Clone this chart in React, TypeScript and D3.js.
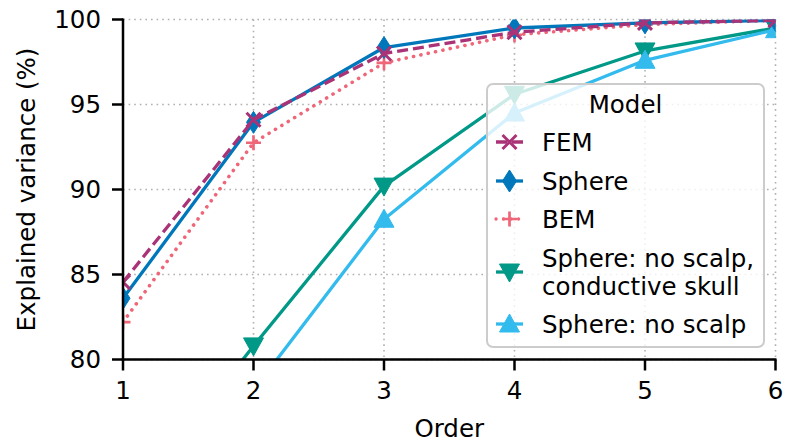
import React from "react";
import * as d3 from "d3";

const orders = [1, 2, 3, 4, 5, 6];
const femValues = [84.55, 94.1, 98.0, 99.25, 99.8, 99.95];
const sphereValues = [83.6, 93.95, 98.35, 99.5, 99.8, 99.95];
const bemValues = [82.2, 92.75, 97.45, 99.1, 99.7, 99.95];
const noScalpSkullValues = [71.0, 80.8, 90.2, 95.6, 98.15, 99.5];
const noScalpValues = [68.5, 78.2, 88.25, 94.5, 97.6, 99.4];
const xTicks = [1, 2, 3, 4, 5, 6];
const yTicks = [80, 85, 90, 95, 100];

type Series = {
  name: string[];
  values: number[];
  color: string;
  dash: string | null;
  cap: string;
  marker: string;
};

const series: Series[] = [
  { name: ["Sphere: no scalp,", "conductive skull"], values: noScalpSkullValues, color: "#009988", dash: null, cap: "butt", marker: "tridown" },
  { name: ["Sphere: no scalp"], values: noScalpValues, color: "#33BBEE", dash: null, cap: "butt", marker: "triup" },
  { name: ["BEM"], values: bemValues, color: "#EE6677", dash: "0.1 7.4", cap: "round", marker: "plus" },
  { name: ["Sphere"], values: sphereValues, color: "#0077BB", dash: null, cap: "butt", marker: "diamond" },
  { name: ["FEM"], values: femValues, color: "#AA3377", dash: "11 5", cap: "butt", marker: "x" },
];

const legendOrder = ["FEM", "Sphere", "BEM", "Sphere: no scalp,", "Sphere: no scalp"];

const W = 786;
const H = 443;
const left = 123;
const right = 775.5;
const top = 19.5;
const bottom = 359.5;
const FONT = "DejaVu Sans, sans-serif";

function Marker({ kind, x, y, color }: { kind: string; x: number; y: number; color: string }) {
  if (kind === "x") {
    const s = 7;
    return (
      <path d={`M${x - s},${y - s}L${x + s},${y + s}M${x - s},${y + s}L${x + s},${y - s}`} stroke={color} strokeWidth={3} fill="none" />
    );
  }
  if (kind === "plus") {
    const s = 7.5;
    return (
      <path d={`M${x - s},${y}L${x + s},${y}M${x},${y - s}L${x},${y + s}`} stroke={color} strokeWidth={2.7} fill="none" />
    );
  }
  if (kind === "diamond") {
    const h = 11, w = 7;
    return <path d={`M${x},${y - h}L${x + w},${y}L${x},${y + h}L${x - w},${y}Z`} fill={color} stroke={color} strokeWidth={1} />;
  }
  if (kind === "tridown") {
    const w = 10, h = 8;
    return <path d={`M${x - w},${y - h}L${x + w},${y - h}L${x},${y + h + 2}Z`} fill={color} stroke={color} strokeWidth={1} />;
  }
  const w = 10, h = 8;
  return <path d={`M${x - w},${y + h}L${x + w},${y + h}L${x},${y - h - 2}Z`} fill={color} stroke={color} strokeWidth={1} />;
}

export default function App() {
  const x = d3.scaleLinear().domain([1, 6]).range([left, right]);
  const y = d3.scaleLinear().domain([80, 100]).range([bottom, top]);
  const line = d3
    .line<number>()
    .x((_, i) => x(orders[i]))
    .y((d) => y(d));

  const legendX = 487;
  const legendY = 84;
  const legendW = 277;
  const legendH = 263;
  const rowYs: Record<string, number[]> = {
    FEM: [142],
    Sphere: [181],
    BEM: [219],
    "Sphere: no scalp,": [258, 286],
    "Sphere: no scalp": [324],
  };

  return (
    <svg width={W} height={H} style={{ position: "absolute", left: 0, top: 0, background: "#fff" }} fontFamily={FONT}>
      <defs>
        <clipPath id="plotclip">
          <rect x={left} y={top} width={right - left} height={bottom - top} />
        </clipPath>
      </defs>
      {/* grid */}
      {xTicks.map((t) => (
        <line key={"gx" + t} x1={x(t)} x2={x(t)} y1={top} y2={bottom} stroke="#b0b0b0" strokeWidth={1.6} strokeDasharray="1.6 4" />
      ))}
      {yTicks.map((t) => (
        <line key={"gy" + t} x1={left} x2={right} y1={y(t)} y2={y(t)} stroke="#b0b0b0" strokeWidth={1.6} strokeDasharray="1.6 4" />
      ))}
      {/* series */}
      <g clipPath="url(#plotclip)">
        {series.map((s) => (
          <g key={s.name[0]}>
            <path
              d={line(s.values) || ""}
              fill="none"
              stroke={s.color}
              strokeWidth={s.dash && s.cap === "round" ? 3.6 : 3.3}
              strokeDasharray={s.dash || undefined}
              strokeLinecap={s.cap as any}
              strokeLinejoin="round"
            />
            {s.values.map((v, i) => (
              <Marker key={i} kind={s.marker} x={x(orders[i])} y={y(v)} color={s.color} />
            ))}
          </g>
        ))}
      </g>
      {/* axes */}
      <line x1={left} x2={left} y1={top - 1} y2={bottom + 1.2} stroke="#000" strokeWidth={2.5} />
      <line x1={left - 1.2} x2={right + 1} y1={bottom} y2={bottom} stroke="#000" strokeWidth={2.5} />
      {yTicks.map((t) => (
        <g key={"yt" + t}>
          <line x1={left - 11} x2={left} y1={y(t)} y2={y(t)} stroke="#000" strokeWidth={2.5} />
          <text x={left - 22} y={y(t)} dy="0.36em" textAnchor="end" fontSize={24.5} fill="#000">
            {t}
          </text>
        </g>
      ))}
      {xTicks.map((t) => (
        <g key={"xt" + t}>
          <line x1={x(t)} x2={x(t)} y1={bottom} y2={bottom + 11} stroke="#000" strokeWidth={2.5} />
          <text x={x(t)} y={399} textAnchor="middle" fontSize={24.5} fill="#000">
            {t}
          </text>
        </g>
      ))}
      <text x={(left + right) / 2} y={437} textAnchor="middle" fontSize={24.5} fill="#000">
        Order
      </text>
      <text transform={`translate(35,${(top + bottom) / 2}) rotate(-90)`} textAnchor="middle" fontSize={24.5} fill="#000">
        Explained variance (%)
      </text>
      {/* legend */}
      <rect x={legendX} y={legendY} width={legendW} height={legendH} rx={6} fill="#fff" fillOpacity={0.8} stroke="#cccccc" strokeWidth={2} />
      <text x={legendX + legendW / 2} y={113} textAnchor="middle" fontSize={24.5} fill="#000">
        Model
      </text>
      {legendOrder.map((nm) => {
        const s = series.find((q) => q.name[0] === nm)!;
        const ys = rowYs[nm];
        const my = ys.length > 1 ? (ys[0] + ys[1]) / 2 : ys[0];
        const lx1 = 496;
        const lx2 = 523;
        return (
          <g key={nm}>
            <line
              x1={lx1}
              x2={lx2}
              y1={my}
              y2={my}
              stroke={s.color}
              strokeWidth={3.3}
              strokeDasharray={s.dash || undefined}
              strokeLinecap={s.cap as any}
            />
            <Marker kind={s.marker} x={(lx1 + lx2) / 2} y={my} color={s.color} />
            {s.name.map((ln, i) => (
              <text key={i} x={542} y={ys[i]} dy="0.36em" fontSize={24.5} fill="#000">
                {ln}
              </text>
            ))}
          </g>
        );
      })}
    </svg>
  );
}
